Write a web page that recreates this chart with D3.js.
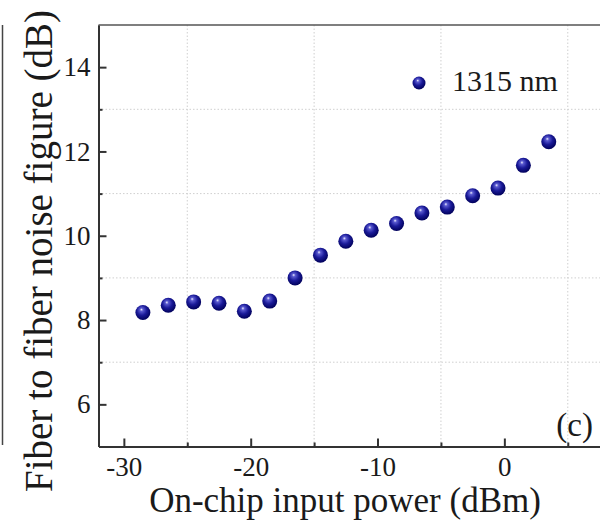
<!DOCTYPE html>
<html>
<head>
<meta charset="utf-8">
<script src="https://cdn.jsdelivr.net/npm/d3@7"></script>
<style>
  html, body { margin: 0; padding: 0; background: #fff; }
  svg { display: block; }
  svg text { font-family: "Liberation Serif", "Times New Roman", Times, serif; fill: #1a1a1a; }
</style>
</head>
<body>
<svg id="chart" width="600" height="522"></svg>
<script>
// on-chip input power (dBm) and fiber-to-fiber noise figure (dB), 1315 nm
const inputPower = [-28.5, -26.5, -24.5, -22.5, -20.5, -18.5, -16.5, -14.5, -12.5,
  -10.5, -8.5, -6.5, -4.5, -2.5, -0.5, 1.5, 3.5];
const noiseFigure = [8.18, 8.35, 8.43, 8.40, 8.21, 8.45, 9.00, 9.54, 9.87,
  10.13, 10.29, 10.54, 10.68, 10.95, 11.13, 11.67, 12.23];
const xMajorTicks = [-30, -20, -10, 0];
const xMinorTicks = [-25, -15, -5, 5];
const yMajorTicks = [6, 8, 10, 12, 14];
const yMinorTicks = [7, 9, 11, 13];
const seriesLabel = "1315 nm";
const panelLabel = "(c)";

const svg = d3.select("#chart");
const plot = { left: 98.5, top: 25, bottom: 446.5 };

const x = d3.scaleLinear().domain([-32, 8]).range([plot.left, plot.left + 40 * 12.683]);
const y = d3.scaleLinear().domain([5, 15]).range([plot.bottom, plot.top]);

// sphere-like marker fill
const defs = svg.append("defs");
const grad = defs.append("radialGradient")
  .attr("id", "ball")
  .attr("cx", "45%").attr("cy", "40%").attr("r", "60%")
  .attr("fx", "40%").attr("fy", "30%");
grad.append("stop").attr("offset", "0%").attr("stop-color", "#f0f0ff");
grad.append("stop").attr("offset", "18%").attr("stop-color", "#5a5ad0");
grad.append("stop").attr("offset", "55%").attr("stop-color", "#1a1a98");
grad.append("stop").attr("offset", "100%").attr("stop-color", "#00005a");

// border of the neighbouring panel on the left
svg.append("line")
  .attr("x1", 2.5).attr("x2", 2.5)
  .attr("y1", plot.top).attr("y2", 445)
  .attr("stroke", "#444").attr("stroke-width", 1.5);

// grid at minor ticks
const grid = svg.append("g")
  .attr("stroke", "#cfcfcf").attr("stroke-width", 1).attr("stroke-dasharray", "1.5,2");
grid.selectAll("line.vg")
  .data(xMinorTicks)
  .join("line")
  .attr("class", "vg")
  .attr("x1", d => x(d)).attr("x2", d => x(d))
  .attr("y1", plot.top).attr("y2", plot.bottom);
grid.selectAll("line.hg")
  .data(yMinorTicks)
  .join("line")
  .attr("class", "hg")
  .attr("x1", plot.left).attr("x2", 600)
  .attr("y1", d => y(d)).attr("y2", d => y(d));

// axes with inward ticks, plain hyphen for minus
const fmt = d => String(d);
const xAxis = svg.append("g")
  .attr("transform", `translate(0,${plot.bottom})`)
  .call(d3.axisBottom(x).tickValues(xMajorTicks).tickFormat(fmt)
    .tickSizeInner(-8).tickSizeOuter(0).tickPadding(10));
xAxis.append("g")
  .call(d3.axisBottom(x).tickValues(xMinorTicks).tickSizeInner(-4).tickSizeOuter(0).tickFormat(""));

const yAxis = svg.append("g")
  .attr("transform", `translate(${plot.left},0)`)
  .call(d3.axisLeft(y).tickValues(yMajorTicks).tickFormat(fmt)
    .tickSizeInner(-8).tickSizeOuter(0).tickPadding(8));
yAxis.append("g")
  .call(d3.axisLeft(y).tickValues(yMinorTicks).tickSizeInner(-4).tickSizeOuter(0).tickFormat(""));

svg.selectAll("g").attr("font-family", null);
svg.selectAll(".domain").attr("stroke", "#333").attr("stroke-width", 2);
svg.selectAll(".tick line").attr("stroke", "#333").attr("stroke-width", 2);
svg.selectAll(".tick text")
  .attr("font-size", 27)
  .attr("fill", "#1a1a1a");

// top frame line
svg.append("line")
  .attr("x1", plot.left).attr("x2", 600)
  .attr("y1", plot.top).attr("y2", plot.top)
  .attr("stroke", "#555").attr("stroke-width", 1.5);

// data points
svg.append("g")
  .selectAll("circle")
  .data(inputPower.map((p, i) => [p, noiseFigure[i]]))
  .join("circle")
  .attr("cx", d => x(d[0]))
  .attr("cy", d => y(d[1]))
  .attr("r", 7.5)
  .attr("fill", "url(#ball)");

// legend
svg.append("circle")
  .attr("cx", 419).attr("cy", 83).attr("r", 6.5)
  .attr("fill", "url(#ball)");
svg.append("text")
  .attr("x", 452).attr("y", 91)
  .attr("font-size", 30)
  .text(seriesLabel);

svg.append("text")
  .attr("x", 593).attr("y", 436)
  .attr("text-anchor", "end")
  .attr("font-size", 33)
  .text(panelLabel);

// axis titles
svg.append("text")
  .attr("x", 345).attr("y", 512)
  .attr("text-anchor", "middle")
  .attr("font-size", 35)
  .text("On-chip input power (dBm)");

svg.append("text")
  .attr("transform", "translate(52,251) rotate(-90)")
  .attr("text-anchor", "middle")
  .attr("font-size", 39)
  .text("Fiber to fiber noise figure (dB)");
</script>
</body>
</html>
